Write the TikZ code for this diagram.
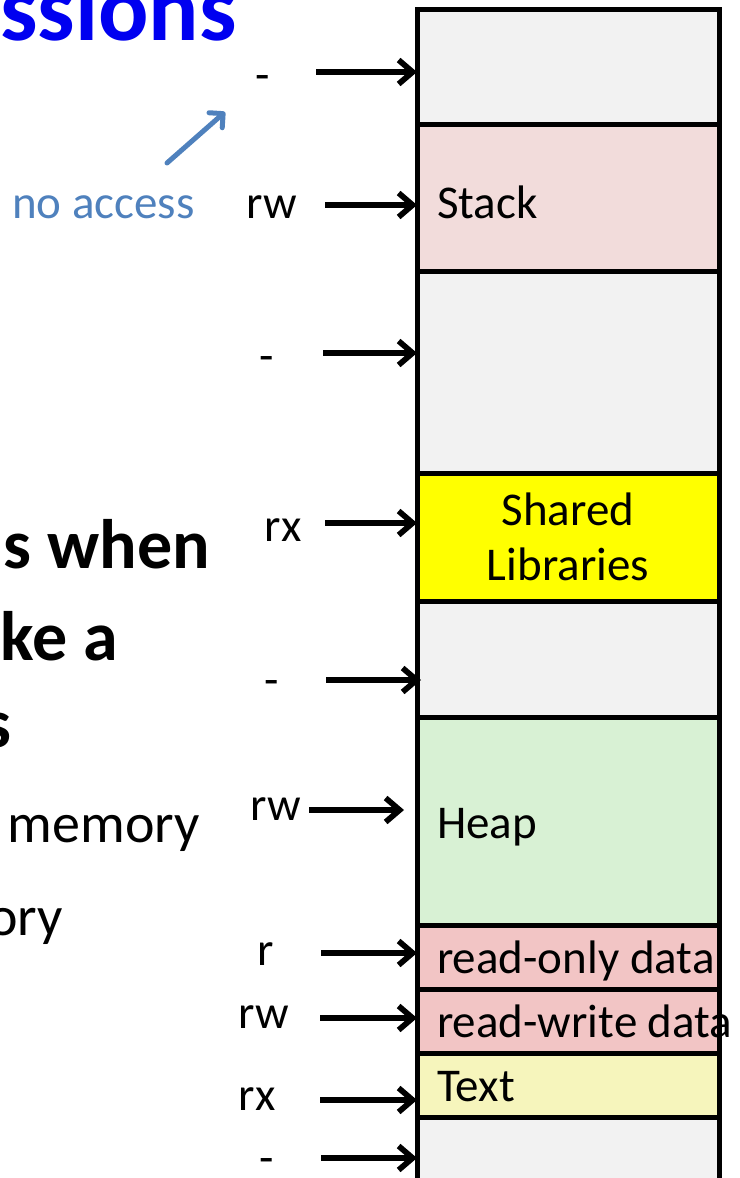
\documentclass[tikz,border=0pt]{standalone}
\usepackage{fontspec}
\setmainfont{Carlito}
\usetikzlibrary{arrows.meta,calc}

\definecolor{memGray}{HTML}{F2F2F2}
\definecolor{stackPink}{HTML}{F2DCDB}
\definecolor{libYellow}{HTML}{FFFF00}
\definecolor{heapGreen}{HTML}{D8F1D4}
\definecolor{dataPink}{HTML}{F2C5C5}
\definecolor{textYellow}{HTML}{F6F5BC}
\definecolor{titleBlue}{HTML}{0000F0}
\definecolor{noteBlue}{HTML}{4F81BD}

\begin{document}
\begin{tikzpicture}[x=1pt,y=-1pt,
  seg/.style={draw=black,line width=5pt,minimum width=302pt,inner sep=0pt,
              outer sep=0pt,anchor=north west},
  perm/.style={font=\fontsize{47}{56}\selectfont,anchor=base,inner sep=0pt},
  segtext/.style={font=\fontsize{47}{56}\selectfont,anchor=base west,inner sep=0pt},
  arr/.style={line width=5.7pt,-{Straight Barb[length=14pt,width=24pt,line width=5.7pt]}},
  boldline/.style={font=\fontsize{70}{80}\selectfont\bfseries,anchor=base east,inner sep=0pt},
  plainline/.style={font=\fontsize{56}{66}\selectfont,anchor=base east,inner sep=0pt}]
\useasboundingbox (0,0) rectangle (739,1178);

% memory segments, top to bottom
\node[seg,fill=memGray,minimum height=115pt]    (s1)  at (417,9)    {};
\node[seg,fill=stackPink,minimum height=147pt]  (s2)  at (417,124)  {};
\node[seg,fill=memGray,minimum height=202pt]    (s3)  at (417,271)  {};
\node[seg,fill=libYellow,minimum height=128pt]  (s4)  at (417,473)  {};
\node[seg,fill=memGray,minimum height=116pt]    (s5)  at (417,601)  {};
\node[seg,fill=heapGreen,minimum height=208pt]  (s6)  at (417,717)  {};
\node[seg,fill=dataPink,minimum height=64pt]    (s7)  at (417,925)  {};
\node[seg,fill=dataPink,minimum height=64pt]    (s8)  at (417,989)  {};
\node[seg,fill=textYellow,minimum height=64pt]  (s9)  at (417,1053) {};
\node[seg,fill=memGray,minimum height=80pt]     (s10) at (417,1117) {};

% segment names
\node[segtext] (stack) at (437,218)  {Stack};
\node[font=\fontsize{47}{55}\selectfont,align=center,inner sep=0pt,anchor=base]
  (libs) at (568,580) {Shared\\Libraries};
\node[segtext] (heap)  at (437,838)  {Heap};
\node[segtext] (ro)    at (437,973)  {read-only data};
\node[segtext] (rwd)   at (437,1037) {read-write data};
\node[segtext] (txt)   at (437,1101) {Text};

% permission labels
\node[perm] (p1)  at (263,90)   {-};
\node[perm] (p2)  at (272,218)  {rw};
\node[perm] (p3)  at (267,371)  {-};
\node[perm] (p4)  at (283,541)  {rx};
\node[perm] (p5)  at (272,695)  {-};
\node[perm] (p6)  at (276,820)  {rw};
\node[perm] (p7)  at (266,965)  {r};
\node[perm] (p8)  at (264,1028) {rw};
\node[perm] (p9)  at (257,1110) {rx};
\node[perm] (p10) at (267,1173) {-};

% arrow tails
\coordinate (t1)  at (316,72);
\coordinate (t2)  at (325,205);
\coordinate (t3)  at (323,353);
\coordinate (t4)  at (325,523);
\coordinate (t5)  at (326,680);
\coordinate (t6)  at (309,810);
\coordinate (t7)  at (321,953);
\coordinate (t8)  at (320,1018);
\coordinate (t9)  at (320,1100);
\coordinate (t10) at (321,1158);

\draw[arr] (t1)  -- (s1.west |- t1);
\draw[arr] (t2)  -- (s2.west |- t2);
\draw[arr] (t3)  -- (s3.west |- t3);
\draw[arr] (t4)  -- (s4.west |- t4);
\draw[arr] (t5)  -- ($(s5.west |- t5)+(4,0)$);
\draw[arr] (t6)  -- ($(s6.west |- t6)+(-13,0)$);
\draw[arr] (t7)  -- (s7.west |- t7);
\draw[arr] (t8)  -- (s8.west |- t8);
\draw[arr] (t9)  -- (s9.west |- t9);
\draw[arr] (t10) -- (s10.west |- t10);

% note pointing at the unmapped region
\node[font=\fontsize{47}{56}\selectfont,text=noteBlue,anchor=base west,inner sep=0pt]
  (note) at (12,218) {no access};
\coordinate (noteTail) at (167,163);
\coordinate (noteTip)  at (225,112);
\draw[noteBlue,line width=5pt,line cap=round,
      -{Straight Barb[length=10pt,width=20pt,line width=5pt,round]}] (noteTail) -- (noteTip);

% slide text running in from the left
\node[font=\fontsize{94}{100}\selectfont\bfseries,text=titleBlue,anchor=base east,inner sep=0pt]
  (title) at (237,40) {ssions};
\node[boldline]  (b1) at (210,568) {s when};
\node[boldline]  (b2) at (118,660) {ke a};
\node[boldline]  (b3) at (12,747)  {s};
\node[plainline] (l1) at (200,842) {memory};
\node[plainline] (l2) at (63,935)  {ory};
\end{tikzpicture}
\end{document}
